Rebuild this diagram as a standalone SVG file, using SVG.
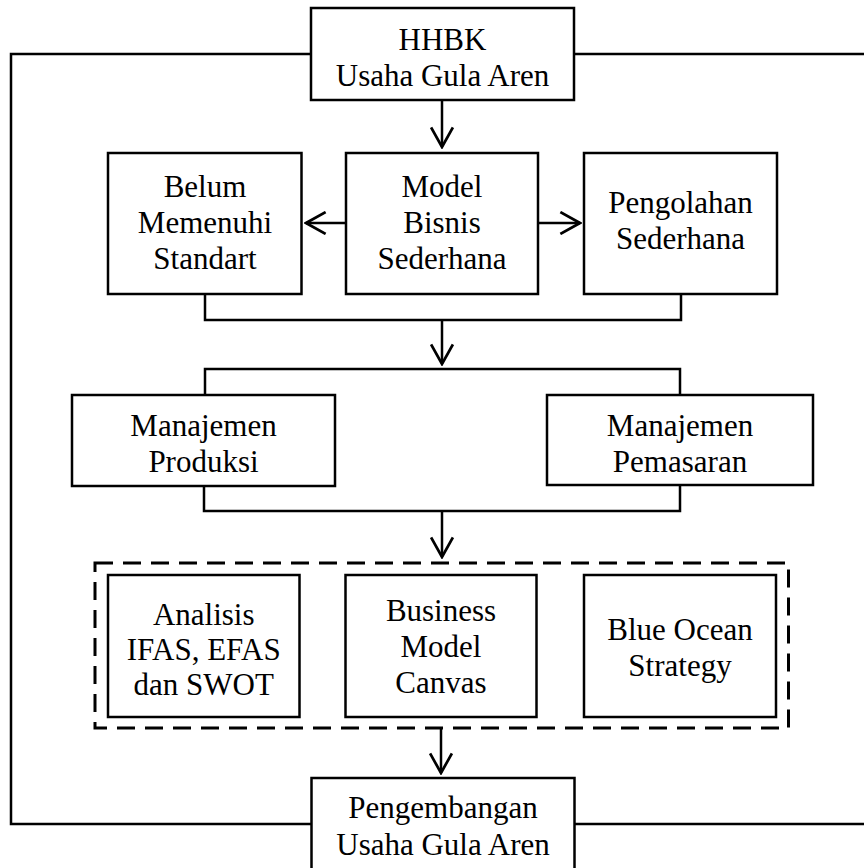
<svg xmlns="http://www.w3.org/2000/svg" width="864" height="868" viewBox="0 0 864 868">
<defs>
<style>
.box{fill:#fff;stroke:#000;stroke-width:2.5}
.ln{fill:none;stroke:#000;stroke-width:2.5}
.dash{fill:none;stroke:#000;stroke-width:3;stroke-dasharray:18 10}
.ar{fill:none;stroke:#000;stroke-width:2.5;marker-end:url(#arr)}
text{font-family:"Liberation Serif","Times New Roman",serif;font-size:31px;fill:#000;text-anchor:middle}
</style>
<marker id="arr" markerUnits="userSpaceOnUse" markerWidth="24" markerHeight="24" viewBox="-20 -11 22 22" refX="0" refY="0" orient="auto">
<path d="M-18,-10 L0,0 L-18,10" fill="none" stroke="#000" stroke-width="2.5"/>
</marker>
</defs>
<rect width="864" height="868" fill="#fff"/>
<g id="connectors">
<polyline class="ln" points="311,54 11,54 11,824 311,824"/>
<line class="ln" x1="574" y1="54" x2="870" y2="54"/>
<line class="ln" x1="574" y1="824" x2="870" y2="824"/>
<line class="ar" x1="442" y1="100" x2="442" y2="147"/>
<line class="ar" x1="346" y1="223" x2="306" y2="223"/>
<line class="ar" x1="538" y1="223" x2="580" y2="223"/>
<polyline class="ln" points="205,294 205,320 681,320 681,294"/>
<line class="ar" x1="442" y1="320" x2="442" y2="364"/>
<polyline class="ln" points="205,395 205,369 680,369 680,395"/>
<polyline class="ln" points="204,486 204,511 680,511 680,486"/>
<line class="ar" x1="442" y1="511" x2="442" y2="557"/>
<line class="ar" x1="441" y1="728" x2="441" y2="773"/>
</g>
<g id="hhbk">
<rect class="box" x="311" y="8" width="263" height="92"/>
<text x="442.5" y="50">HHBK</text>
<text x="442.5" y="86">Usaha Gula Aren</text>
</g>
<g id="belum">
<rect class="box" x="108" y="153" width="193.5" height="141"/>
<text x="205" y="197">Belum</text>
<text x="205" y="233">Memenuhi</text>
<text x="205" y="269">Standart</text>
</g>
<g id="model">
<rect class="box" x="346" y="153" width="192" height="141"/>
<text x="442" y="197">Model</text>
<text x="442" y="233">Bisnis</text>
<text x="442" y="269">Sederhana</text>
</g>
<g id="pengolahan">
<rect class="box" x="584" y="153" width="193" height="141"/>
<text x="680.5" y="213">Pengolahan</text>
<text x="680.5" y="249">Sederhana</text>
</g>
<g id="produksi">
<rect class="box" x="72" y="395" width="263" height="91"/>
<text x="203.5" y="436">Manajemen</text>
<text x="203.5" y="472">Produksi</text>
</g>
<g id="pemasaran">
<rect class="box" x="547" y="395" width="266" height="90"/>
<text x="680" y="436">Manajemen</text>
<text x="680" y="472">Pemasaran</text>
</g>
<g id="analysis-group">
<rect class="dash" x="95" y="563" width="693.5" height="165"/>
</g>
<g id="analisis">
<rect class="box" x="108" y="575" width="191.5" height="142"/>
<text x="203.7" y="625">Analisis</text>
<text x="203.7" y="660">IFAS, EFAS</text>
<text x="203.7" y="695">dan SWOT</text>
</g>
<g id="bmc">
<rect class="box" x="345.5" y="575" width="191" height="142"/>
<text x="441" y="621">Business</text>
<text x="441" y="657">Model</text>
<text x="441" y="693">Canvas</text>
</g>
<g id="blue-ocean">
<rect class="box" x="584" y="575" width="192" height="142"/>
<text x="680" y="640">Blue Ocean</text>
<text x="680" y="676">Strategy</text>
</g>
<g id="pengembangan">
<rect class="box" x="311.5" y="778" width="263" height="100"/>
<text x="443" y="818">Pengembangan</text>
<text x="443" y="855">Usaha Gula Aren</text>
</g>
</svg>
